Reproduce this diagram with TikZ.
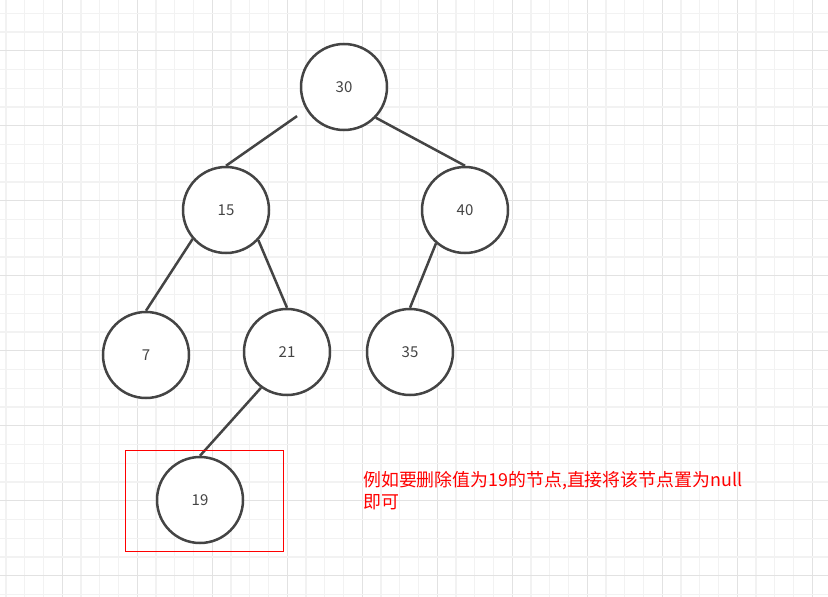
\documentclass[tikz,border=0pt]{standalone}
\usepackage{fontspec}
\setmainfont{Noto Sans CJK SC}
\newfontfamily\cjk{Noto Sans CJK SC}
\definecolor{gridminor}{HTML}{F2F2F2}
\definecolor{gridmajor}{HTML}{E2E2E2}
\definecolor{edgecol}{HTML}{444444}
\definecolor{txtcol}{HTML}{444444}
\begin{document}
\begin{tikzpicture}[x=1pt,y=-1pt,
  treenode/.style={circle, draw=edgecol, line width=2.5pt, minimum size=86pt, inner sep=0pt,
     font=\cjk\fontsize{15}{18}\selectfont, text=txtcol, fill=white},
  treeedge/.style={draw=edgecol, line width=2.5pt},
  marker/.style={draw=red, line width=0.9pt},
  note/.style={anchor=north west, align=left, text=red, inner sep=0pt,
     font=\cjk\fontsize{17.9}{22}\selectfont}]
\useasboundingbox (0,0) rectangle (828,597);
\fill[white] (0,0) rectangle (828,597);
% grid
\foreach \k in {0,...,43} {
  \pgfmathsetmacro{\gx}{6+18.75*\k}
  \pgfmathtruncatemacro{\m}{mod(\k+1,4)}
  \ifnum\m=0
    \draw[gridmajor, line width=1.3pt] (\gx,0) -- (\gx,597);
  \else
    \draw[gridminor, line width=1.3pt] (\gx,0) -- (\gx,597);
  \fi
}
\foreach \k in {0,...,31} {
  \pgfmathsetmacro{\gy}{13.3+18.75*\k}
  \pgfmathtruncatemacro{\m}{mod(\k+2,4)}
  \ifnum\m=0
    \draw[gridmajor, line width=1.3pt] (0,\gy) -- (828,\gy);
  \else
    \draw[gridminor, line width=1.3pt] (0,\gy) -- (828,\gy);
  \fi
}
% nodes
\node[treenode] (n30) at (344,87) {30};
\node[treenode] (n15) at (226,210) {15};
\node[treenode] (n40) at (465,210) {40};
\node[treenode] (n7)  at (146,355) {7};
\node[treenode] (n21) at (287,352) {21};
\node[treenode] (n35) at (410,352) {35};
\node[treenode] (n19) at (200,500) {19};
% edges
\draw[treeedge, shorten <=11pt] (n30.211) -- (n15.90);
\draw[treeedge] (n30.316) -- (n40.90);
\draw[treeedge] (n15.221) -- (n7.90);
\draw[treeedge] (n15.317) -- (n21.90);
\draw[treeedge] (n40.229) -- (n35.90);
\draw[treeedge] (n21.234) -- (n19.90);
% marker rectangle
\node[marker, minimum width=158pt, minimum height=101pt, inner sep=0pt] (box) at (204,500.5) {};
% note
\node[note] (txt) at (363,471) {例如要删除值为19的节点,直接将该节点置为null\\即可};
\end{tikzpicture}
\end{document}
